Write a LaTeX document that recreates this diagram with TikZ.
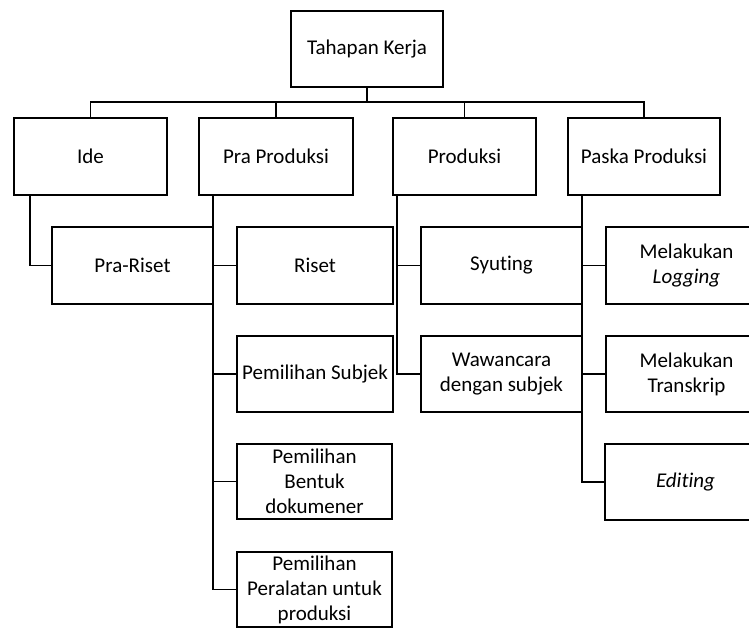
\documentclass[tikz,border=0pt]{standalone}
\usepackage{fontspec}
\setmainfont{Carlito}[Ligatures=NoCommon]
\tikzset{
  box/.style={draw, line width=1.7pt, align=center, inner sep=2pt,
    font=\fontsize{21}{25}\selectfont},
  line/.style={line width=1.7pt}
}
\begin{document}
\begin{tikzpicture}[x=1pt, y=-1pt]
  \useasboundingbox (0,0) rectangle (749,628);
  \clip (0,0) rectangle (749,628);
  % Top
  \node[box, minimum width=152, minimum height=76] (top) at (367,49) {Tahapan Kerja};
  % Level 1
  \node[box, minimum width=153, minimum height=77] (ide) at (90.5,156.5) {Ide};
  \node[box, minimum width=154, minimum height=77] (pra) at (276,156.5) {Pra Produksi};
  \node[box, minimum width=143, minimum height=77] (prod) at (464.5,156.5) {Produksi};
  \node[box, minimum width=152, minimum height=77] (paska) at (644,156.5) {Paska Produksi};
  % Level 2, row 1
  \node[box, minimum width=161, minimum height=77] (prariset) at (132.5,265.5) {Pra-Riset};
  \node[box, minimum width=156, minimum height=77] (riset) at (315,265.5) {Riset};
  \node[box, minimum width=161, minimum height=77] (syuting) at (501.5,265.5) {Syuting};
  \node[box, minimum width=161, minimum height=77] (logging) at (686.5,265.5) {Melakukan\\\textit{Logging}};
  % Level 2, row 2
  \node[box, minimum width=156, minimum height=76] (subjek) at (315,374) {Pemilihan Subjek};
  \node[box, minimum width=161, minimum height=76] (wawancara) at (501.5,374) {Wawancara\\dengan subjek};
  \node[box, minimum width=161, minimum height=76] (transkrip) at (686.5,374) {Melakukan\\Transkrip};
  % Level 2, row 3 and 4
  \node[box, minimum width=155, minimum height=75] (bentuk) at (314.5,481.5) {Pemilihan\\Bentuk\\dokumener};
  \node[box, minimum width=161, minimum height=76] (editing) at (685.5,482) {\textit{Editing}};
  \node[box, minimum width=155, minimum height=75] (peralatan) at (314.5,589.5) {Pemilihan\\Peralatan untuk\\produksi};
  % Connectors top
  \coordinate (bar) at (367,102);
  \draw[line] (top.south) -- (bar);
  \draw[line] (ide.north) |- (bar) -| (paska.north);
  \draw[line] (pra.north) -- (pra.north |- bar);
  \draw[line] (prod.north) -- (prod.north |- bar);
  % Spines
  \coordinate (idespine) at ([xshift=17pt]ide.south west);
  \coordinate (praspine) at ([xshift=15pt]pra.south west);
  \coordinate (prodspine) at ([xshift=5pt]prod.south west);
  \coordinate (paskaspine) at ([xshift=15pt]paska.south west);
  \draw[line] (idespine) |- (prariset.west);
  \draw[line] (praspine) |- (peralatan.west);
  \foreach \n in {riset,subjek,bentuk}
    \draw[line] (\n.west) -- (\n.west -| praspine);
  \draw[line] (prodspine) |- (wawancara.west);
  \draw[line] (syuting.west) -- (syuting.west -| prodspine);
  \draw[line] (paskaspine) |- (editing.west);
  \foreach \n in {logging,transkrip}
    \draw[line] (\n.west) -- (\n.west -| paskaspine);
\end{tikzpicture}
\end{document}
